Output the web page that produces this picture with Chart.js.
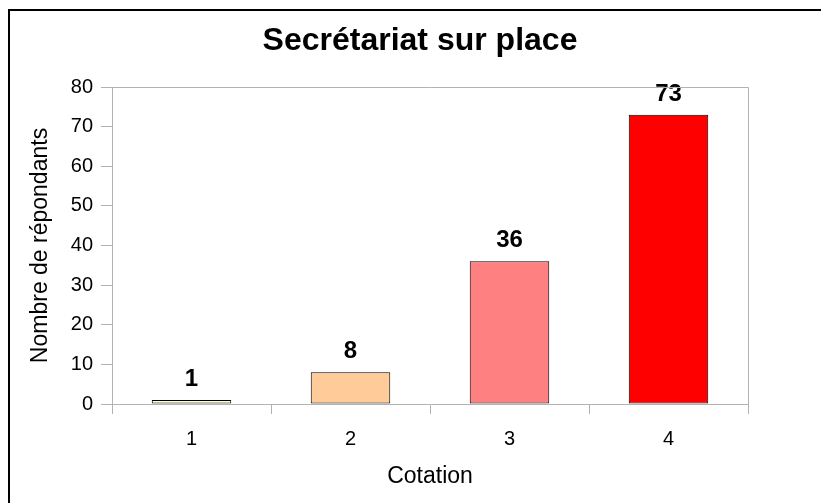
<!DOCTYPE html>
<html>
<head>
<meta charset="utf-8">
<script src="https://cdn.jsdelivr.net/npm/chart.js@4"></script>
<style>
  body { margin: 0; background: #fff; }
</style>
</head>
<body>
<canvas id="chart" width="821" height="503"></canvas>
<script>
// chart data
const categories = ['1', '2', '3', '4'];
const respondents = [1, 8, 36, 73];
const barColors = ['#ffffcc', '#ffcc99', '#ff8080', '#ff0000'];
const yTicks = [0, 10, 20, 30, 40, 50, 60, 70, 80];

const FONT = '"Liberation Sans", Arial, sans-serif';
const AXIS_GREY = '#b3b3b3';

// outer frame + top/right border of the plot area
const framePlugin = {
    id: 'frame',
    beforeDraw(chart) {
        const ctx = chart.ctx;
        ctx.save();
        ctx.strokeStyle = '#000';
        ctx.lineWidth = 2;
        ctx.strokeRect(9, 10, 1000, 1000);
        ctx.restore();
    },
    afterDraw(chart) {
        const { ctx, chartArea } = chart;
        ctx.save();
        ctx.strokeStyle = AXIS_GREY;
        ctx.lineWidth = 1;
        ctx.beginPath();
        ctx.moveTo(chartArea.left, chartArea.top + 0.5);
        ctx.lineTo(chartArea.right + 0.5, chartArea.top + 0.5);
        ctx.lineTo(chartArea.right + 0.5, chartArea.bottom);
        ctx.stroke();
        ctx.restore();
    }
};

// value labels above the bars
const valueLabels = {
    id: 'valueLabels',
    afterDatasetsDraw(chart) {
        const ctx = chart.ctx;
        const meta = chart.getDatasetMeta(0);
        ctx.save();
        ctx.font = 'bold 24px ' + FONT;
        ctx.fillStyle = '#000';
        ctx.textAlign = 'center';
        ctx.textBaseline = 'middle';
        meta.data.forEach((bar, i) => {
            ctx.fillText(String(respondents[i]), bar.x, bar.y - 20.5);
        });
        ctx.restore();
    }
};

const ctx = document.getElementById('chart').getContext('2d');
new Chart(ctx, {
    type: 'bar',
    data: {
        labels: categories,
        datasets: [{
            data: respondents,
            backgroundColor: barColors,
            borderColor: '#000',
            borderWidth: 1,
            borderSkipped: false,
            categoryPercentage: 1,
            barPercentage: 0.5
        }]
    },
    options: {
        responsive: false,
        animation: false,
        layout: { padding: { left: 19, right: 0, top: 0, bottom: 0 } },
        plugins: {
            legend: { display: false },
            tooltip: { enabled: false },
            title: {
                display: true,
                text: 'Secrétariat sur place',
                color: '#000',
                font: { family: FONT, size: 32, weight: 'bold' },
                padding: { top: 22, bottom: 26.6 }
            }
        },
        scales: {
            x: {
                grid: {
                    offset: true,
                    drawOnChartArea: false,
                    tickLength: 10,
                    color: AXIS_GREY
                },
                border: { color: AXIS_GREY },
                ticks: {
                    color: '#000',
                    padding: 13,
                    font: { family: FONT, size: 20 }
                },
                title: {
                    display: true,
                    text: 'Cotation',
                    color: '#000',
                    font: { family: FONT, size: 23 },
                    padding: { top: 0, bottom: 13 }
                },
                afterFit(scale) { scale.height = 99; }
            },
            y: {
                min: 0,
                max: 80,
                afterBuildTicks(scale) {
                    scale.ticks = yTicks.map(v => ({ value: v }));
                },
                grid: {
                    drawOnChartArea: false,
                    tickLength: 11,
                    color: AXIS_GREY
                },
                border: { color: AXIS_GREY },
                ticks: {
                    color: '#000',
                    padding: 8,
                    font: { family: FONT, size: 20 }
                },
                title: {
                    display: true,
                    text: 'Nombre de répondants',
                    color: '#000',
                    font: { family: FONT, size: 23 },
                    padding: { top: 8, bottom: 0 }
                },
                afterFit(scale) { scale.width = 93; }
            },
            // empty right-hand margin so the title centres on the whole frame
            yRight: {
                position: 'right',
                grid: { display: false },
                border: { display: false },
                ticks: { display: false },
                afterFit(scale) { scale.width = 73; }
            }
        }
    },
    plugins: [framePlugin, valueLabels]
});
</script>
</body>
</html>
